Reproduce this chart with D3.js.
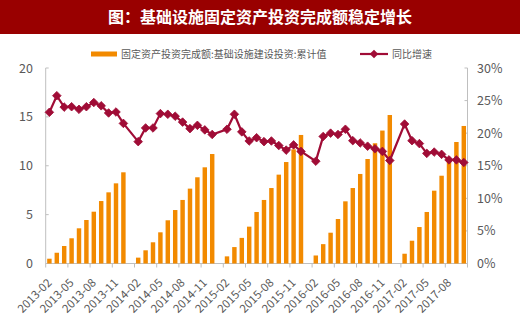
<!DOCTYPE html>
<html><head><meta charset="utf-8">
<script src="https://cdn.jsdelivr.net/npm/d3@7"></script>
<style>
html,body{margin:0;padding:0;background:#fff;}
svg{display:block;}
text{font-family:"Noto Sans CJK SC","Microsoft YaHei",sans-serif;}
</style></head>
<body><svg id="c" width="520" height="330"></svg>
<script>
const titleText = "图：基础设施固定资产投资完成额稳定增长";
const barName = "固定资产投资完成额:基础设施建设投资:累计值";
const lineName = "同比增速";

const categories = [
 "2013-02","2013-03","2013-04","2013-05","2013-06","2013-07","2013-08","2013-09","2013-10","2013-11","2013-12",
 "2014-01","2014-02","2014-03","2014-04","2014-05","2014-06","2014-07","2014-08","2014-09","2014-10","2014-11","2014-12",
 "2015-01","2015-02","2015-03","2015-04","2015-05","2015-06","2015-07","2015-08","2015-09","2015-10","2015-11","2015-12",
 "2016-01","2016-02","2016-03","2016-04","2016-05","2016-06","2016-07","2016-08","2016-09","2016-10","2016-11","2016-12",
 "2017-01","2017-02","2017-03","2017-04","2017-05","2017-06","2017-07","2017-08","2017-09","2017-10"
];
// cumulative investment (left axis), null = no January data
const cumValues = [
 0.49,1.10,1.79,2.58,3.60,4.45,5.30,6.39,7.28,8.20,9.33,
 null,0.60,1.35,2.17,3.19,4.42,5.47,6.50,7.66,8.82,9.84,11.20,
 null,0.73,1.68,2.62,3.77,5.27,6.50,7.72,9.09,10.38,11.68,13.15,
 null,0.82,1.98,3.15,4.55,6.36,7.72,9.16,10.69,12.30,13.60,15.19,
 null,1.00,2.33,3.73,5.27,7.45,8.98,10.62,12.43,14.07
];
// year-on-year growth % (right axis)
const growthValues = [
 23.2,25.75,24.0,24.06,23.66,24.06,24.7,24.2,23.1,23.25,21.5,
 null,18.7,20.8,20.8,23.0,22.9,22.6,21.7,20.7,21.2,20.5,19.8,
 null,20.6,22.9,20.2,18.8,19.3,18.7,18.8,18.1,17.4,18.2,17.2,
 null,15.7,19.5,20.0,19.8,20.6,18.85,18.5,18.0,17.6,17.2,15.8,
 null,21.4,18.85,18.4,16.9,17.1,16.75,15.9,15.9,15.5
];
const xTickLabels = ["2013-02","2013-05","2013-08","2013-11","2014-02","2014-05","2014-08","2014-11",
 "2015-02","2015-05","2015-08","2015-11","2016-02","2016-05","2016-08","2016-11","2017-02","2017-05","2017-08"];
const leftTicks = [0,5,10,15,20];
const rightTicks = [0,5,10,15,20,25,30];

const svg = d3.select("#c");
const W = 520, H = 330;
const plot = {l:45.7, r:467.5, t:68, b:263.5};
const barColor = "#F28A00", lineColor = "#A00C36", axisColor = "#BFBFBF", textColor = "#595959";

// title
svg.append("rect").attr("x",0).attr("y",0).attr("width",W).attr("height",34).attr("fill","#990000");
svg.append("text").attr("x",260).attr("y",23).attr("text-anchor","middle")
  .attr("fill","#fff").attr("font-size",16).attr("font-weight","bold").text(titleText);

const x = d3.scaleBand().domain(categories).range([plot.l, plot.r]).paddingInner(0.4).paddingOuter(0.2);
const yL = d3.scaleLinear().domain([0,20]).range([plot.b, plot.t]);
const yR = d3.scaleLinear().domain([0,30]).range([plot.b, plot.t]);

// axes lines
const ax = svg.append("g").attr("stroke",axisColor).attr("stroke-width",1).attr("fill","none");
ax.append("line").attr("x1",plot.l).attr("x2",plot.l).attr("y1",plot.t).attr("y2",plot.b);
ax.append("line").attr("x1",plot.r).attr("x2",plot.r).attr("y1",plot.t).attr("y2",plot.b);
ax.append("line").attr("x1",plot.l).attr("x2",plot.r).attr("y1",plot.b).attr("y2",plot.b);

// left ticks
leftTicks.forEach(v=>{
  ax.append("line").attr("x1",plot.l).attr("x2",plot.l+3).attr("y1",yL(v)).attr("y2",yL(v));
  svg.append("text").attr("x",33).attr("y",yL(v)+4.5).attr("text-anchor","end")
    .attr("font-size",12.5).attr("fill",textColor).text(v);
});
rightTicks.forEach(v=>{
  ax.append("line").attr("x1",plot.r-3).attr("x2",plot.r).attr("y1",yR(v)).attr("y2",yR(v));
  svg.append("text").attr("x",477).attr("y",yR(v)+4.5).attr("text-anchor","start")
    .attr("font-size",12.5).attr("fill",textColor).text(v+"%");
});
// x ticks
const step = x.step();
xTickLabels.forEach(lab=>{
  const x0 = x(lab) - x.paddingOuter()*step;
  ax.append("line").attr("x1",x0).attr("x2",x0).attr("y1",plot.b).attr("y2",plot.b+4);
  const cx = x0 + step/2 + 3;
  svg.append("text").attr("transform",`translate(${cx},${plot.b+20}) rotate(-45)`)
    .attr("text-anchor","end").attr("font-size",11.5).attr("fill",textColor).text(lab);
});
ax.append("line").attr("x1",plot.r).attr("x2",plot.r).attr("y1",plot.b).attr("y2",plot.b+4);

// bars
const data = categories.map((c,i)=>({c, v:cumValues[i], g:growthValues[i]}));
svg.append("g").selectAll("rect").data(data.filter(d=>d.v!=null)).join("rect")
  .attr("x",d=>x(d.c)).attr("width",x.bandwidth())
  .attr("y",d=>yL(d.v)).attr("height",d=>yL(0)-yL(d.v)).attr("fill",barColor);

// line
const pts = data.filter(d=>d.g!=null);
const line = d3.line().x(d=>x(d.c)+x.bandwidth()/2).y(d=>yR(d.g));
svg.append("path").datum(pts).attr("d",line).attr("fill","none").attr("stroke",lineColor).attr("stroke-width",2.2);
const dia = (s)=>`M0,${-s}L${s},0L0,${s}L${-s},0Z`;
svg.append("g").selectAll("path").data(pts).join("path")
  .attr("transform",d=>`translate(${x(d.c)+x.bandwidth()/2},${yR(d.g)})`)
  .attr("d",dia(4.3)).attr("fill",lineColor).attr("stroke",lineColor).attr("stroke-width",0.8).attr("stroke-linejoin","round");

// legend
const lg = svg.append("g");
lg.append("rect").attr("x",91).attr("y",51.5).attr("width",26).attr("height",5).attr("fill",barColor);
lg.append("text").attr("x",121).attr("y",57.5).attr("font-size",10).attr("fill",textColor).text(barName);
lg.append("line").attr("x1",360).attr("x2",388).attr("y1",54).attr("y2",54).attr("stroke",lineColor).attr("stroke-width",2.2);
lg.append("path").attr("transform","translate(374,54)").attr("d",dia(4.3)).attr("fill",lineColor);
lg.append("text").attr("x",392).attr("y",57.5).attr("font-size",10).attr("fill",textColor).text(lineName);
</script></body></html>
